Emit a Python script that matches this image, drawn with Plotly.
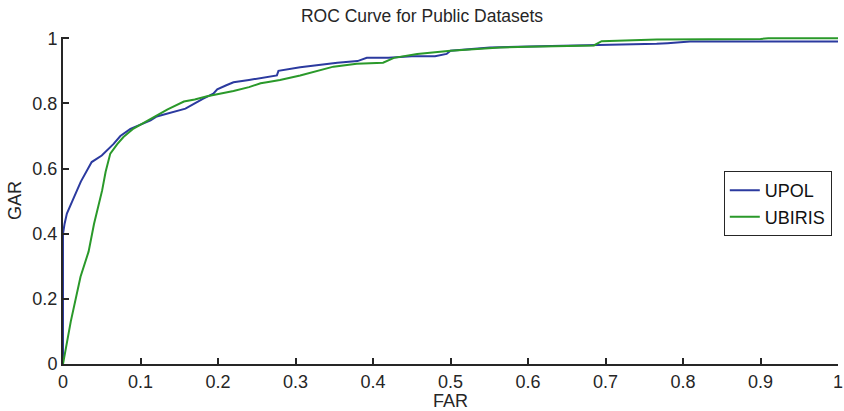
import plotly.graph_objects as go

upol_far = [0, 0, 0.002, 0.005, 0.012, 0.023, 0.037, 0.05, 0.065, 0.074, 0.087, 0.1, 0.113,
            0.121, 0.14, 0.158, 0.17, 0.181, 0.194, 0.199, 0.21, 0.22, 0.24, 0.255, 0.276, 0.278,
            0.306, 0.33, 0.354, 0.38, 0.392, 0.42, 0.45, 0.48, 0.495, 0.5, 0.551, 0.6, 0.663,
            0.7, 0.766, 0.78, 0.809, 1.0]
upol_gar = [0, 0.4, 0.43, 0.462, 0.5, 0.56, 0.62, 0.64, 0.675, 0.70, 0.722, 0.735, 0.748,
            0.76, 0.773, 0.784, 0.80, 0.815, 0.83, 0.843, 0.855, 0.865, 0.872, 0.878, 0.886, 0.9,
            0.911, 0.918, 0.925, 0.93, 0.94, 0.94, 0.945, 0.945, 0.952, 0.962, 0.972, 0.975, 0.978,
            0.978, 0.983, 0.985, 0.99, 0.99]

ubiris_far = [0, 0.01, 0.0226, 0.033, 0.04, 0.048, 0.0505, 0.055, 0.061, 0.07, 0.078, 0.091,
              0.1, 0.117, 0.135, 0.156, 0.17, 0.186, 0.2, 0.22, 0.24, 0.255, 0.263, 0.28, 0.306,
              0.33, 0.349, 0.379, 0.413, 0.427, 0.457, 0.5, 0.564, 0.6, 0.65, 0.685, 0.695,
              0.766, 0.9, 0.91, 1.0]
ubiris_gar = [0, 0.13, 0.268, 0.345, 0.43, 0.503, 0.533, 0.59, 0.646, 0.675, 0.697, 0.723,
              0.735, 0.76, 0.782, 0.806, 0.812, 0.822, 0.828, 0.838, 0.85, 0.862, 0.865, 0.872,
              0.886, 0.9, 0.913, 0.922, 0.925, 0.94, 0.952, 0.962, 0.972, 0.974, 0.976, 0.978,
              0.991, 0.996, 0.998, 1.0, 1.0]

x_ticks = [0, 0.1, 0.2, 0.3, 0.4, 0.5, 0.6, 0.7, 0.8, 0.9, 1]
x_labels = ["0", "0.1", "0.2", "0.3", "0.4", "0.5", "0.6", "0.7", "0.8", "0.9", "1"]
y_ticks = [0, 0.2, 0.4, 0.6, 0.8, 1]
y_labels = ["0", "0.2", "0.4", "0.6", "0.8", "1"]

FONT = "Liberation Sans, Arial, sans-serif"

fig = go.Figure()
fig.add_trace(go.Scatter(x=upol_far, y=upol_gar, mode="lines", name="UPOL",
                         line=dict(color="#2b3a9f", width=2)))
fig.add_trace(go.Scatter(x=ubiris_far, y=ubiris_gar, mode="lines", name="UBIRIS",
                         line=dict(color="#2a992a", width=2)))

axis_common = dict(showline=True, linecolor="#262626", linewidth=2, ticks="inside",
                   ticklen=6, tickwidth=1.5, tickcolor="#262626", showgrid=False,
                   zeroline=False, mirror=False, automargin=False,
                   tickfont=dict(family=FONT, size=18, color="#262626"))

fig.update_layout(
    width=844, height=411,
    margin=dict(l=63, r=6, t=37, b=47),
    paper_bgcolor="white", plot_bgcolor="white",
    title=dict(text="ROC Curve for Public Datasets", x=0.5, xref="container",
               xanchor="center", y=1 - 16 / 411, yref="container", yanchor="middle",
               font=dict(family=FONT, size=17.5, color="#262626")),
    xaxis=dict(range=[0, 1], tickvals=x_ticks, ticktext=x_labels,
               title=dict(text="FAR", standoff=0,
                          font=dict(family=FONT, size=18, color="#262626")),
               **axis_common),
    yaxis=dict(range=[0, 1.004], tickvals=y_ticks, ticktext=y_labels,
               title=dict(text="GAR", standoff=6,
                          font=dict(family=FONT, size=18, color="#262626")),
               **axis_common),
    legend=dict(x=0.992, y=0.59, xanchor="right", yanchor="top",
                bordercolor="#262626", borderwidth=1, bgcolor="white",
                font=dict(family=FONT, size=18, color="#111111"),
                itemwidth=30, tracegroupgap=0),
    showlegend=True,
)

fig.write_html("out.html", config={"displayModeBar": False},
               post_script="document.body.style.margin='0';document.body.style.overflow='hidden';")
